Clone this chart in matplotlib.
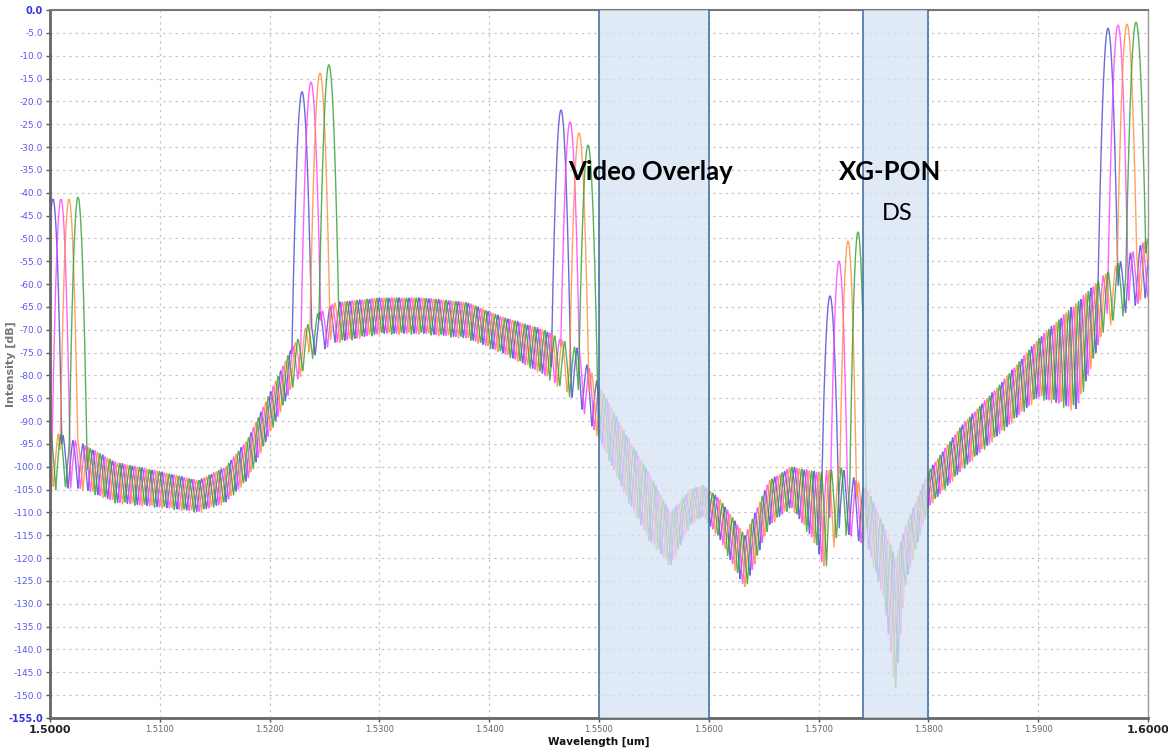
import numpy as np
import matplotlib
matplotlib.use("Agg")
import matplotlib.pyplot as plt

# envelope of the spectrum background (upper edge) and ripple dip depth
env_wl = [1.5000, 1.5030, 1.5060, 1.5100, 1.5135, 1.5160, 1.5180, 1.5200, 1.5220, 1.5240,
          1.5260, 1.5300, 1.5340, 1.5380, 1.5410, 1.5450, 1.5480, 1.5500, 1.5525, 1.5545,
          1.5565, 1.5583, 1.5595, 1.5610, 1.5633, 1.5655, 1.5675, 1.5697, 1.5705, 1.5720,
          1.5745, 1.5760, 1.5770, 1.5779, 1.5800, 1.5830, 1.5865, 1.5900, 1.5935, 1.5960,
          1.6000]
env_top = [-92, -95, -99, -101, -103, -100, -94, -84, -74, -67,
           -64, -63, -63, -64, -67, -70, -74, -82, -93, -101,
           -110, -105, -104, -107, -115, -103, -100, -101, -101, -100,
           -105, -113, -120, -113, -101, -91, -82, -72, -64, -58,
           -50]
env_depth = [13, 10, 9, 8, 7, 8, 9, 9, 9, 9,
             9, 8, 8, 8, 8, 10, 12, 12, 14, 15,
             12, 8, 7, 9, 12, 10, 9, 16, 22, 14,
             13, 17, 30, 13, 8, 10, 11, 13, 24, 12,
             13]

trace_colors = ["#4646d2", "#ff3cff", "#ff8a3c", "#2e9e2e"]
ripple_phase = [0.0, 0.00022, 0.00045, 0.00067]
ripple_period = 0.0009

# laser peaks: centre [um] per trace and peak level [dB] per trace, for 5 channel groups
peak_centres = [
    [1.50027, 1.52295, 1.54654, 1.57104, 1.59636],
    [1.50100, 1.52377, 1.54736, 1.57186, 1.59727],
    [1.50173, 1.52459, 1.54818, 1.57268, 1.59809],
    [1.50255, 1.52540, 1.54900, 1.57359, 1.59891],
]
peak_levels = [
    [-41.4, -17.9, -21.9, -62.6, -4.0],
    [-41.4, -15.8, -24.5, -55.0, -3.3],
    [-41.4, -13.8, -26.9, -50.6, -3.1],
    [-41.0, -12.0, -29.6, -48.6, -2.7],
]
peak_halfwidth = [0.00085, 0.00095, 0.0009, 0.0008, 0.00095]

bands = [(1.5500, 1.5600), (1.5740, 1.5800)]

fig = plt.figure(figsize=(11.68, 7.49), dpi=100)
ax = fig.add_axes([50 / 1168, 1 - 718 / 749, 1098 / 1168, 708 / 749])

x = np.arange(1.5, 1.6 + 1e-9, 0.00004)
top = np.interp(x, env_wl, env_top)
depth = np.interp(x, env_wl, env_depth)
for i, col in enumerate(trace_colors):
    d = 1 - 2 * np.abs(((x - ripple_phase[i]) / ripple_period) % 1 - 0.5)
    y = top - depth * d ** 1.3
    for c, h, hw in zip(peak_centres[i], peak_levels[i], peak_halfwidth):
        base = np.interp(c, env_wl, env_top)
        pk = h - (h - base + 8) * ((x - c) / hw) ** 2
        y = np.maximum(y, pk)
    ax.plot(x, y, color=col, lw=1.0, alpha=0.8, zorder=2)

for a, b in bands:
    ax.axvspan(a, b, facecolor="#d6e3f3", alpha=0.75, edgecolor="none", zorder=3)
    ax.axvline(a, color="#3a6a9c", lw=1.1, zorder=4)
    ax.axvline(b, color="#3a6a9c", lw=1.1, zorder=4)

ax.text(1.5547, -35.5, "Video Overlay", family="Lato", weight="bold", fontsize=18.5,
        ha="center", va="center", zorder=5)
ax.text(1.5765, -35.5, "XG-PON", family="Lato", weight="bold", fontsize=18.5,
        ha="center", va="center", zorder=5)
ax.text(1.5772, -44.5, "DS", family="Lato", fontsize=17, ha="center", va="center", zorder=5)

ax.set_xlim(1.5, 1.6)
ax.set_ylim(-155, 0)
yt = np.arange(-155, 0.1, 5)
ax.set_yticks(yt)
ax.set_yticklabels([f"{v:.1f}" for v in yt], color="#5a5aee", fontsize=6.5)
for lab in (ax.get_yticklabels()[0], ax.get_yticklabels()[-1]):
    lab.set_fontweight("bold")
    lab.set_color("#3434e0")
    lab.set_fontsize(7)
xt = np.round(np.arange(1.5, 1.6001, 0.01), 2)
ax.set_xticks(xt)
ax.set_xticklabels([f"{v:.4f}" for v in xt], color="#666666", fontsize=6)
for lab in (ax.get_xticklabels()[0], ax.get_xticklabels()[-1]):
    lab.set_fontweight("bold")
    lab.set_color("#222222")
    lab.set_fontsize(8)

ax.grid(True, color="#c8c8c8", ls=(0, (2, 3)), lw=0.9)
ax.set_axisbelow(True)
ax.tick_params(axis="both", length=3, width=1, color="#555555", pad=2)
ax.spines["left"].set_linewidth(2)
ax.spines["left"].set_color("#666666")
ax.spines["bottom"].set_linewidth(2)
ax.spines["bottom"].set_color("#666666")
ax.spines["top"].set_linewidth(1.5)
ax.spines["top"].set_color("#777777")
ax.spines["right"].set_linewidth(1)
ax.spines["right"].set_color("#999999")

ax.set_ylabel("Intensity [dB]", color="#777777", fontsize=8, weight="bold")
ax.yaxis.set_label_coords(-0.031, 0.5)
ax.set_xlabel("Wavelength [um]", color="#111111", fontsize=7.5, weight="bold", labelpad=1)

fig.savefig("out.png", dpi=100)
